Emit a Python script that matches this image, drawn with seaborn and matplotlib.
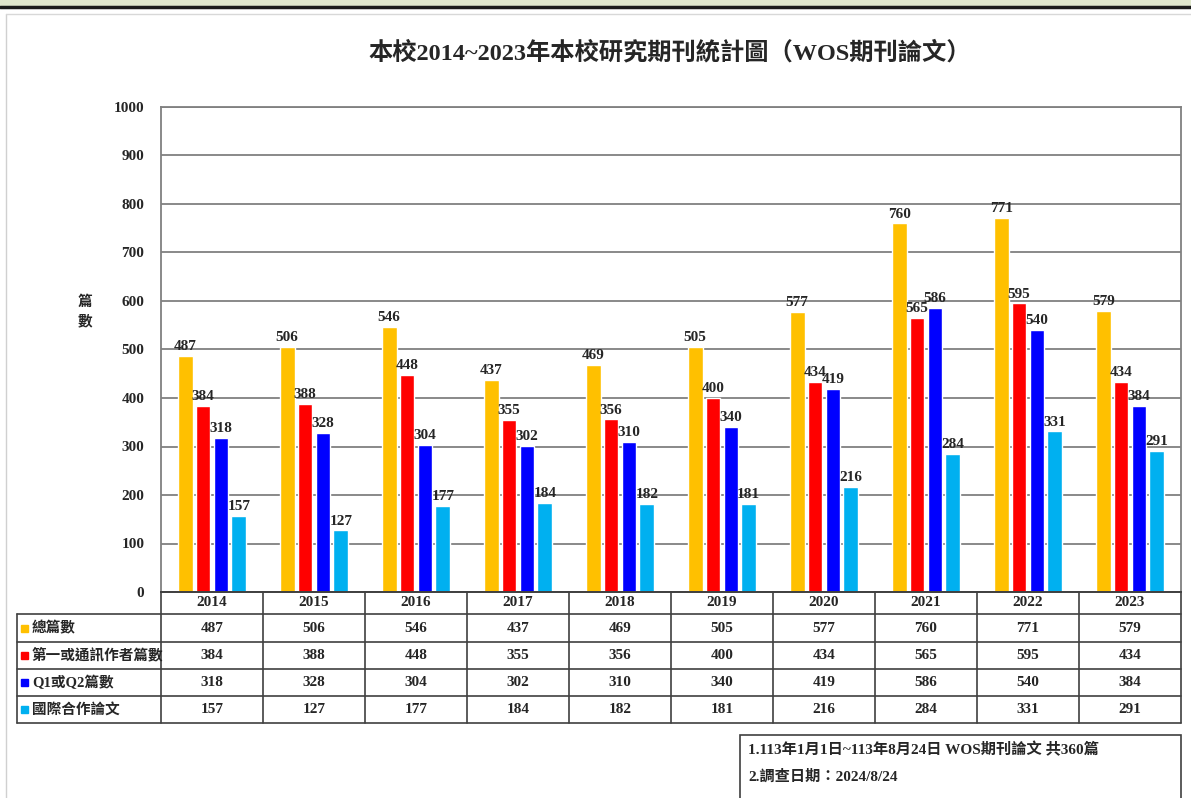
import pandas as pd
import numpy as np
import matplotlib.pyplot as plt
import matplotlib.transforms as mtransforms
import seaborn as sns

# datos
years = ['2014', '2015', '2016', '2017', '2018', '2019', '2020', '2021', '2022', '2023']
series = ['總篇數', '第一或通訊作者篇數', 'Q1或Q2篇數', '國際合作論文']
total = [487, 506, 546, 437, 469, 505, 577, 760, 771, 579]
first_author = [384, 388, 448, 355, 356, 400, 434, 565, 595, 434]
q1q2 = [318, 328, 304, 302, 310, 340, 419, 586, 540, 384]
intl = [157, 127, 177, 184, 182, 181, 216, 284, 331, 291]
colors = ['#FFC000', '#FF0000', '#0000FF', '#00B0F0']

title = '本校2014~2023年本校研究期刊統計圖（WOS期刊論文）'
ylabel = '篇\n數'
note_lines = ['1.113年1月1日~113年8月24日 WOS期刊論文 共360篇', '2.調查日期：2024/8/24']

values = [total, first_author, q1q2, intl]
df = pd.DataFrame({
    'year': years * 4,
    'serie': [s for s in series for _ in years],
    'count': [v for vals in values for v in vals],
})

sns.set_style('white')
plt.rcParams['font.family'] = ['Liberation Serif', 'Noto Sans CJK TC', 'DejaVu Sans']
plt.rcParams['font.weight'] = 'bold'

W, H = 1191, 798
fig = plt.figure(figsize=(W / 100, H / 100), dpi=100)


def fx(px):
    return px / W


def fy(py):
    return 1 - py / H


# marco de la captura
fig.add_artist(plt.Rectangle((0, fy(6)), 1, 6 / H, transform=fig.transFigure, color='#dfe6cc', zorder=0))
fig.add_artist(plt.Line2D([0, 1], [fy(7), fy(7)], transform=fig.transFigure, color='#1a1a1a', lw=2.5))
fig.add_artist(plt.Line2D([fx(6), fx(6)], [fy(14), 0], transform=fig.transFigure, color='#d0d0d0', lw=1))
fig.add_artist(plt.Line2D([fx(6), 1], [fy(14), fy(14)], transform=fig.transFigure, color='#d8d8d8', lw=1))

left, right, top, bottom = 161, 1181, 107, 592
ax = fig.add_axes([fx(left), fy(bottom), fx(right - left), (bottom - top) / H])

sns.barplot(data=df, x='year', y='count', hue='serie', palette=colors,
            width=0.7, gap=0.17, ax=ax, legend=False, saturation=1)

for cont in ax.containers:
    ax.bar_label(cont, padding=2, fontsize=11, fontweight='bold')

ax.set_ylim(0, 1000)
ax.set_xlim(-0.5, len(years) - 0.5)
ax.set_yticks(np.arange(0, 1001, 100))
ax.tick_params(axis='y', labelsize=11, length=0, pad=12)
ax.set_xticks([])
ax.set_xlabel('')
ax.set_ylabel('')
ax.grid(axis='y', color='#808080', lw=1.3)
ax.set_axisbelow(True)
for sp in ax.spines.values():
    sp.set_color('#808080')
    sp.set_linewidth(1.3)
ax.spines['bottom'].set_color('#404040')

fig.text(fx(85), fy(312), ylabel, ha='center', va='center', fontsize=10.5, linespacing=1.6)
fig.text(fx(670), fy(53), title, ha='center', va='center', fontsize=17.5)

# tabla de datos
trans = mtransforms.blended_transform_factory(ax.transData, fig.transFigure)
rows = [592, 614, 642, 669, 696, 723]
lc = '#404040'
# lineas horizontales
for i, r in enumerate(rows):
    x0 = fx(left) if i == 0 else fx(17)
    fig.add_artist(plt.Line2D([x0, fx(right)], [fy(r), fy(r)], transform=fig.transFigure, color=lc, lw=1.2))
# lineas verticales
for k in range(len(years) + 1):
    xb = left + k * (right - left) / len(years)
    fig.add_artist(plt.Line2D([fx(xb), fx(xb)], [fy(rows[0]), fy(rows[-1])], transform=fig.transFigure, color=lc, lw=1.2))
fig.add_artist(plt.Line2D([fx(17), fx(17)], [fy(rows[1]), fy(rows[-1])], transform=fig.transFigure, color=lc, lw=1.2))

for j, y in enumerate(years):
    fig.text(j, fy((rows[0] + rows[1]) / 2), y, transform=trans, ha='center', va='center', fontsize=11)
for i, (s, vals, c) in enumerate(zip(series, values, colors)):
    yc = fy((rows[i + 1] + rows[i + 2]) / 2)
    fig.add_artist(plt.Rectangle((fx(21), yc - 3.5 / H), 7 / W, 7 / H, transform=fig.transFigure, color=c))
    fig.text(fx(32), yc, s, ha='left', va='center', fontsize=10.5)
    for j, v in enumerate(vals):
        fig.text(j, yc, str(v), transform=trans, ha='center', va='center', fontsize=11)

# nota
fig.add_artist(plt.Rectangle((fx(740), fy(800)), fx(1181 - 740), (800 - 735) / H, transform=fig.transFigure,
                             fill=False, ec='#404040', lw=1.2))
fig.text(fx(748), fy(750), note_lines[0], ha='left', va='center', fontsize=11)
fig.text(fx(748), fy(777), note_lines[1], ha='left', va='center', fontsize=11)

fig.savefig('out.png', dpi=100)
